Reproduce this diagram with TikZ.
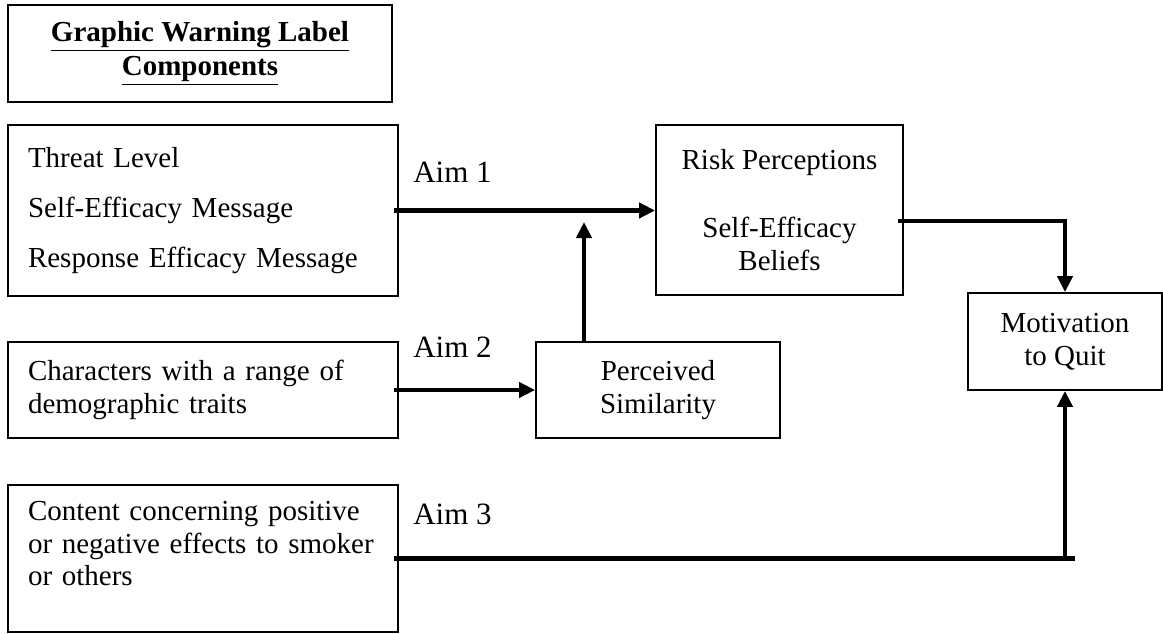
\documentclass[tikz,border=0pt]{standalone}
\usepackage{fontspec}
\setmainfont{Liberation Serif}
\usetikzlibrary{arrows.meta}
\tikzset{
    box/.style={draw, line width=0.9pt, inner xsep=10pt, font=\fontsize{14.5}{16.4}\selectfont}, % every box
    leftbox/.style={box, align=left, text width=175pt, minimum width=195pt}, % boxes with the label components
    midbox/.style={box, align=center}, % boxes in the middle and on the right
    titlebox/.style={midbox, font=\fontsize{14.5}{16.4}\selectfont\bfseries}, % the heading box
    aim/.style={inner sep=0pt, font=\fontsize{15.5}{18}\selectfont}, % labels of the aims
    aimline/.style={line width=2.4pt}, % thick lines
    arr/.style={aimline, -{Triangle[length=8pt, width=7.5pt]}}, % thick arrows
}
\begin{document}
\begin{tikzpicture}[x=0.5pt, y=-0.5pt]
                            \useasboundingbox (0,0) rectangle (1163,633);
                            \node[titlebox, minimum width=192pt, minimum height=48.5pt] (title) at (200,53.5) {\underline{Graphic Warning Label}\\[1pt]\underline{Components}};
                            \node[leftbox, minimum height=85.5pt] (comp) at (203,210.5) {Threat Level\\[8.6pt]Self-Efficacy Message\\[8.6pt]Response Efficacy Message};
                            \node[leftbox, minimum height=48pt] (chars) at (203,390) {Characters with a range of\\demographic traits};
                            \node[leftbox, minimum height=73.5pt] (content) at (203,558.5) {Content concerning positive\\or negative effects to smoker\\or others\rule[-15pt]{0pt}{1pt}};
                            \node[midbox, minimum width=123.5pt, minimum height=85pt] (risk) at (779.5,210) {Risk Perceptions\\[17.6pt]Self-Efficacy\\Beliefs};
                            \node[midbox, minimum width=122pt, minimum height=48pt] (sim) at (658,390) {Perceived\\Similarity};
                            \node[midbox, minimum width=97pt, minimum height=48.5pt] (motiv) at (1065,341.5) {Motivation\\to Quit};
                            % aim labels
                            \node[aim, anchor=base west] (aim1) at ([xshift=7pt, yshift=14pt]comp.east) {Aim 1};
                            \node[aim, anchor=base west] (aim2) at ([xshift=7pt, yshift=16.5pt]chars.east) {Aim 2};
                            \node[aim, anchor=base west] (aim3) at ([xshift=7pt, yshift=17.2pt]content.east) {Aim 3};
                            \coordinate (simtip) at (584,222);
                            \draw[arr] ([xshift=-2.5pt]comp.east) -- (comp.east -| risk.west);
                            \draw[arr] ([xshift=-2.5pt]chars.east) -- (chars.east -| sim.west);
                            \draw[arr] (sim.north -| simtip) -- (simtip);
                            \draw[arr] ([xshift=-3pt, yshift=-5.5pt]risk.east) -| (motiv.north);
                            \draw[aimline] ([xshift=-2.5pt]content.east) -- ([xshift=5pt]content.east -| motiv.south);
                            \draw[arr] (content.east -| motiv.south) -- (motiv.south);
                        \end{tikzpicture}
\end{document}
